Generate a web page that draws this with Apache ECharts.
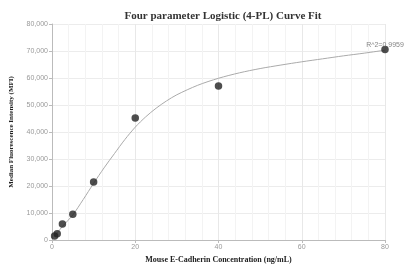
<!DOCTYPE html>
<html>
<head>
<meta charset="utf-8">
<script src="https://cdn.jsdelivr.net/npm/echarts@6/dist/echarts.min.js"></script>
<style>
  html, body { margin: 0; padding: 0; background: #fff; }
  #main { width: 404px; height: 271px; }
</style>
</head>
<body>
<div id="main"></div>
<script>
// measured standards
var conc = [0.625, 1.25, 2.5, 5, 10, 20, 40, 80]
var mfi = [1500, 2350, 5900, 9500, 21500, 45200, 57000, 70600]

// fitted 4-PL curve
var fitX = [0.5, 2.5, 5, 7.5, 10, 12.5, 15, 17.5, 20, 22.5, 25, 27.5, 30, 35, 40, 45, 50, 55, 60, 65, 70, 75, 80]
var fitY = [1200, 5000, 9300, 15000, 21000, 26700, 32000, 37200, 41800, 45600, 48800, 51500, 53800, 57300, 59900, 61900, 63500, 64800, 66000, 67100, 68200, 69200, 70300]

var r2Label = 'R^2=0.9959'

const myCharts = echarts.init(document.getElementById('main'))

var points = conc.map(function (c, i) {
  var p = { value: [c, mfi[i]] }
  if (i === conc.length - 1) {
    p.label = {
      show: true,
      formatter: r2Label,
      position: 'inside',
      offset: [0, -4],
      color: '#666',
      fontSize: 7,
      fontFamily: 'Arial'
    }
  }
  return p
})

var curve = fitX.map(function (x, i) { return [x, fitY[i]] })

const option = {
  animation: false,
  title: {
    text: 'Four parameter Logistic (4-PL) Curve Fit',
    left: 218,
    textAlign: 'center',
    top: 6,
    textStyle: { fontFamily: 'Liberation Serif', fontWeight: 'bold', fontSize: 11, color: '#333' }
  },
  grid: { left: 52, right: 19, top: 24, bottom: 31 },
  xAxis: {
    type: 'value',
    min: 0,
    max: 80,
    interval: 20,
    name: 'Mouse E-Cadherin Concentration (ng/mL)',
    nameLocation: 'middle',
    nameGap: 16,
    nameTextStyle: { fontFamily: 'Liberation Serif', fontWeight: 'bold', fontSize: 8, color: '#222' },
    axisLine: { show: true, lineStyle: { color: '#bbb' } },
    axisTick: { show: true, length: 3, lineStyle: { color: '#bbb' } },
    axisLabel: { color: '#999', fontSize: 7, margin: 4, fontFamily: 'Arial' },
    splitLine: { show: true, lineStyle: { color: '#e8e8e8' } },
    minorTick: { show: false, splitNumber: 5 },
    minorSplitLine: { show: true, lineStyle: { color: '#f3f3f3' } }
  },
  yAxis: {
    type: 'value',
    min: 0,
    max: 80000,
    interval: 10000,
    name: 'Median Fluorescence Intensity (MFI)',
    nameLocation: 'middle',
    nameGap: 37,
    nameTextStyle: { fontFamily: 'Liberation Serif', fontWeight: 'bold', fontSize: 7, color: '#222' },
    axisLine: { show: true, lineStyle: { color: '#bbb' } },
    axisTick: { show: true, length: 3, lineStyle: { color: '#bbb' } },
    axisLabel: {
      color: '#999', fontSize: 7, margin: 4, fontFamily: 'Arial',
      formatter: function (v) { return v.toLocaleString('en-US') }
    },
    splitLine: { show: true, lineStyle: { color: '#ececec' } }
  },
  series: [
    {
      type: 'line',
      data: curve,
      smooth: 0.3,
      showSymbol: false,
      lineStyle: { color: '#aaa', width: 1 },
      z: 2
    },
    {
      type: 'scatter',
      data: points,
      symbolSize: 7.5,
      itemStyle: { color: '#222' },
      z: 3
    }
  ]
}
myCharts.setOption(option)
</script>
</body>
</html>
